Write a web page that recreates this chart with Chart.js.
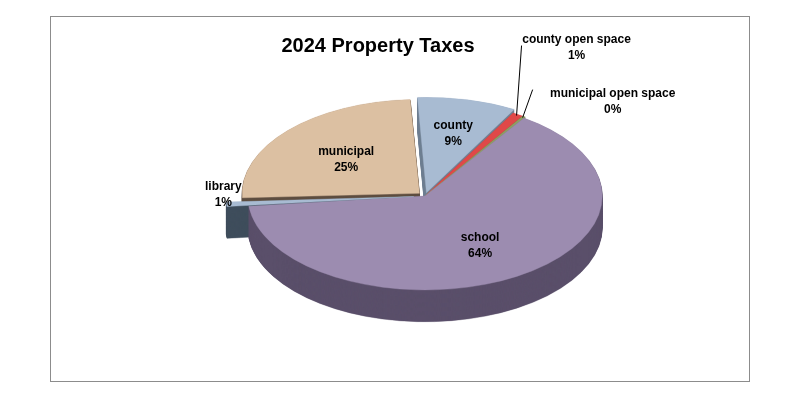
<!DOCTYPE html>
<html><head><script src="https://cdn.jsdelivr.net/npm/chart.js@4"></script>
<style>body{margin:0;background:#fff}#f{position:absolute;left:50px;top:16px;width:698px;height:364px;border:1px solid #8c8c8c}</style></head>
<body><div id="f"></div><canvas id="c" width="800" height="400" style="position:absolute;left:0;top:0"></canvas>
<script>
const categories=["county","county open space","municipal open space","school","library","municipal"];
const values=[9,1,0.3,64,1,25];
const pctLabels=["9%","1%","0%","64%","1%","25%"];
const topColors=["#a8bbd2","#e04848","#8e9e62","#9c8cb0","#a8bbd2","#dcc0a2"];
const sideColors=["#6f7f92","#a02828","#5e6a3e","#5a4f6a","#3f4e5c","#5e4e40"];
const offsets=[25,5,5,0,45,30];
const SQ=0.53, DEPTH=32, CY=196;
function tf(ctx,chart){const m=chart.getDatasetMeta(0).data[0];ctx.translate(m.x,CY);ctx.scale(1,SQ);ctx.translate(-m.x,-m.y);}
const pie3d={id:'pie3d',
beforeDatasetsDraw(chart){const ctx=chart.ctx,meta=chart.getDatasetMeta(0);
 ctx.save();tf(ctx,chart);
 for(let k=Math.round(DEPTH/SQ);k>0;k--){ctx.save();ctx.translate(0,k);
  meta.data.forEach((a,i)=>{const o=a.options;const b=o.backgroundColor,bc=o.borderColor;o.backgroundColor=sideColors[i];o.borderColor=sideColors[i];a.draw(ctx);o.backgroundColor=b;o.borderColor=bc;});
  ctx.restore();}
},
afterDatasetsDraw(chart){chart.ctx.restore();
 const ctx=chart.ctx,meta=chart.getDatasetMeta(0);
 ctx.save();ctx.fillStyle='#000';ctx.textAlign='center';
 ctx.font='bold 20px "Liberation Sans", Arial';ctx.fillText('2024 Property Taxes',378,52);
 ctx.font='bold 12px "Liberation Sans", Arial';
 meta.data.forEach((a,i)=>{const ang=(a.startAngle+a.endAngle)/2;let r;
  const inside=values[i]>5;r=a.outerRadius*(i==0?0.7:0.6);
  let x=a.x+Math.cos(ang)*r, y=CY+Math.sin(ang)*r*SQ;
  if(!inside){
   const ex=a.x+Math.cos(ang)*a.outerRadius, ey=CY+Math.sin(ang)*a.outerRadius*SQ;
   if(i==1){x=ex+60;y=ey-70;} else if(i==2){x=ex+90;y=ey-18;} else {x=ex-25;y=ey-10;}
   if(i!=4){ctx.strokeStyle='#000';ctx.lineWidth=1;ctx.beginPath();ctx.moveTo(ex,ey);ctx.lineTo(x-(i==1?55:80),y-(i==1?0:10));ctx.stroke();}
  }
  ctx.fillText(categories[i],x,y-3);ctx.fillText(pctLabels[i],x,y+13);});
 ctx.restore();}
};
new Chart(document.getElementById('c'),{type:'pie',
 data:{labels:categories,datasets:[{data:values,backgroundColor:topColors,borderColor:topColors,borderWidth:0.5,offset:offsets}]},
 options:{responsive:false,animation:false,events:[],rotation:-3,
  layout:{padding:{left:50,right:0,top:0,bottom:0}},
  plugins:{legend:{display:false},tooltip:{enabled:false},title:{display:false}}},
 plugins:[pie3d]});
</script></body></html>
